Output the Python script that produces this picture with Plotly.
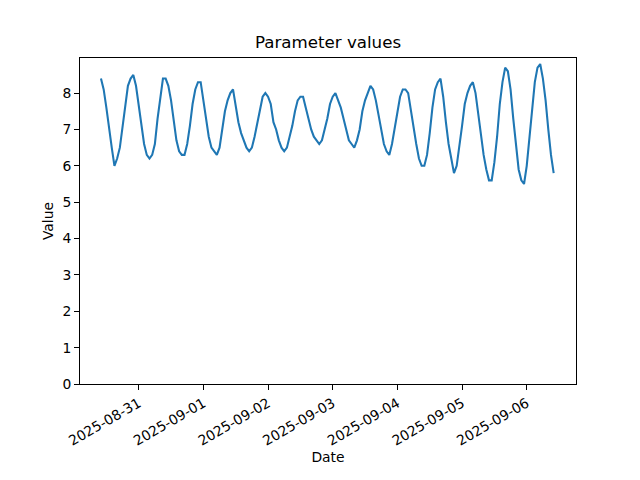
import pandas as pd
import plotly.graph_objects as go

# Hourly series
start_time = "2025-08-30 10:00"
values = [
    8.4, 8.1, 7.6, 7.0, 6.5, 6.0, 6.2, 6.5, 7.1, 7.7, 8.2, 8.4, 8.5,
    8.2, 7.7, 7.1, 6.6, 6.3, 6.2,
    6.3, 6.6, 7.3, 7.9, 8.4, 8.4,
    8.2, 7.8, 7.2, 6.7, 6.4, 6.3,
    6.3, 6.6, 7.1, 7.7, 8.1, 8.3, 8.3,
    7.8, 7.2, 6.8, 6.5, 6.4, 6.3,
    6.5, 7.0, 7.5, 7.8, 8.0, 8.1,
    7.6, 7.2, 6.9, 6.7, 6.5, 6.4,
    6.5, 6.8, 7.2, 7.6, 7.9, 8.0,
    7.9, 7.7, 7.2, 7.0, 6.7, 6.5, 6.4,
    6.5, 6.8, 7.1, 7.5, 7.8, 7.9, 7.9,
    7.6, 7.3, 7.0, 6.8, 6.7, 6.6,
    6.7, 7.0, 7.3, 7.7, 7.9, 8.0,
    7.8, 7.6, 7.3, 7.0, 6.7, 6.6, 6.5,
    6.7, 7.0, 7.5, 7.8, 8.0, 8.2,
    8.1, 7.8, 7.4, 7.0, 6.6, 6.4, 6.3,
    6.6, 7.0, 7.4, 7.9, 8.1, 8.1,
    8.0, 7.5, 7.0, 6.6, 6.2, 6.0, 6.0,
    6.3, 6.9, 7.6, 8.1, 8.3, 8.4,
    7.9, 7.2, 6.6, 6.2, 5.8, 6.0,
    6.5, 7.1, 7.7, 8.0, 8.2, 8.3,
    8.0, 7.4, 6.8, 6.3, 5.9, 5.6, 5.6,
    6.1, 6.8, 7.7, 8.3, 8.7, 8.6,
    8.1, 7.3, 6.5, 5.9, 5.6, 5.5,
    6.0, 6.8, 7.6, 8.3, 8.7, 8.8,
    8.4, 7.8, 7.0, 6.3, 5.8,
]
dates = pd.date_range(start_time, periods=len(values), freq="h")

title_text = "Parameter values"
x_label = "Date"
y_label = "Value"
y_ticks = list(range(0, 9))
x_tick_start = "2025-08-31"

vmin, vmax = min(values), max(values)
y_top = vmax + 0.05 * (vmax - vmin)

FONT = "DejaVu Sans"
FS = 13.89
FS_TITLE = 16.67

fig = go.Figure()
fig.add_trace(go.Scatter(
    x=dates, y=values, mode="lines",
    line=dict(color="#1f77b4", width=2.08),
    showlegend=False,
))

fig.update_layout(
    width=640, height=480,
    margin=dict(l=80, r=64, t=58, b=96, pad=0, autoexpand=False),
    paper_bgcolor="white", plot_bgcolor="white",
    font=dict(family=FONT, size=FS, color="black"),
    title=dict(text=title_text, x=0.5, xref="paper", xanchor="center",
               y=1 - 42 / 480, yref="container", yanchor="middle",
               font=dict(family=FONT, size=FS_TITLE, color="black")),
)
fig.update_xaxes(
    automargin=False,
    range=["2025-08-30 02:13", "2025-09-06 18:17"],
    tickmode="linear", tick0=x_tick_start, dtick=86400000,
    tickformat="%Y-%m-%d", tickangle=-30,
    showgrid=False, zeroline=False,
    showline=True, linecolor="black", linewidth=1, mirror=True,
    ticks="outside", ticklen=5, tickwidth=1, tickcolor="black",
    tickfont=dict(family=FONT, size=FS, color="black"),
    title=dict(text=x_label, standoff=4, font=dict(family=FONT, size=FS, color="black")),
)
fig.update_yaxes(
    automargin=False,
    range=[0, y_top],
    tickmode="array", tickvals=y_ticks, ticktext=[str(v) for v in y_ticks],
    showgrid=False, zeroline=False,
    showline=True, linecolor="black", linewidth=1, mirror=True,
    ticks="outside", ticklen=5, tickwidth=1, tickcolor="black",
    tickfont=dict(family=FONT, size=FS, color="black"),
    title=dict(text=y_label, standoff=5, font=dict(family=FONT, size=FS, color="black")),
)

fig.write_html("out.html", config={"displayModeBar": False},
               post_script="document.body.style.margin='0';")
